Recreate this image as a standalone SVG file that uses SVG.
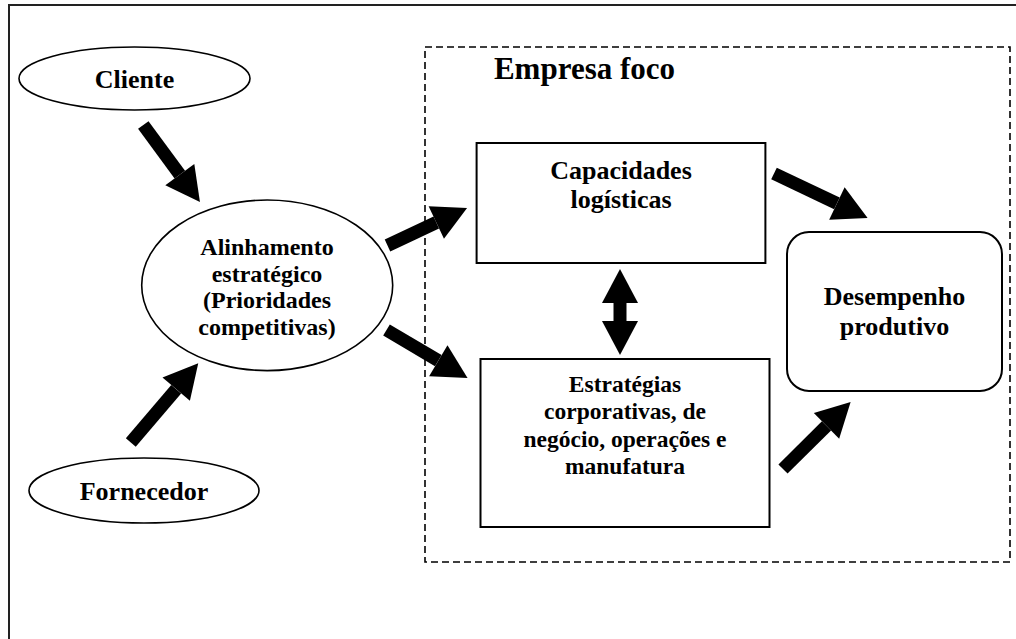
<svg xmlns="http://www.w3.org/2000/svg" width="1016" height="639" viewBox="0 0 1016 639">
<style>
text{font-family:'Liberation Serif',Tinos,'DejaVu Serif',serif;font-weight:bold;fill:#000;text-anchor:middle}
.ell{fill:#fff;stroke:#000;stroke-width:1.6}
.box{fill:#fff;stroke:#000;stroke-width:2}
.arr{stroke:#000;stroke-width:13;fill:none;marker-end:url(#head)}
</style>
<defs>
<marker id="head" markerUnits="userSpaceOnUse" markerWidth="36" markerHeight="38" refX="0" refY="18" orient="auto-start-reverse" viewBox="0 0 36 38" overflow="visible">
<path d="M0,0 L34,18 L0,36 z" fill="#000"/>
</marker>
</defs>
<rect width="1016" height="639" fill="#fff"/>
<g id="frame">
<path d="M9,639 V5 H1016" fill="none" stroke="#222" stroke-width="2"/>
</g>
<g id="empresa-foco">
<rect x="425" y="47" width="585" height="515" fill="none" stroke="#000" stroke-width="1.6" stroke-dasharray="7 4"/>
<text x="584.5" y="79" font-size="31" font-family="Liberation Serif, serif">Empresa foco</text>
</g>
<g id="cliente">
<ellipse class="ell" cx="134.5" cy="78.5" rx="115.5" ry="31.5"/>
<text x="134.5" y="88" font-size="26" font-family="Liberation Serif, serif">Cliente</text>
</g>
<g id="fornecedor">
<ellipse class="ell" cx="144" cy="490.5" rx="115" ry="32.5"/>
<text x="144" y="500" font-size="26" font-family="Liberation Serif, serif">Fornecedor</text>
</g>
<g id="alinhamento">
<ellipse class="ell" cx="267.2" cy="285.3" rx="125.5" ry="85.3"/>
<text x="267" font-size="24" font-family="Liberation Serif, serif"><tspan x="267" y="255">Alinhamento</tspan><tspan x="267" y="281.7">estratégico</tspan><tspan x="267" y="308.3">(Prioridades</tspan><tspan x="267" y="335">competitivas)</tspan></text>
</g>
<g id="capacidades">
<rect class="box" x="476.6" y="143" width="288.8" height="120"/>
<text font-size="26" font-family="Liberation Serif, serif"><tspan x="621" y="179">Capacidades</tspan><tspan x="621" y="208.3">logísticas</tspan></text>
</g>
<g id="estrategias">
<rect class="box" x="480.5" y="359" width="289" height="168"/>
<text font-size="23.5" font-family="Liberation Serif, serif"><tspan x="625" y="391.7">Estratégias</tspan><tspan x="625" y="419.3">corporativas, de</tspan><tspan x="625" y="446.7">negócio, operações e</tspan><tspan x="625" y="474">manufatura</tspan></text>
</g>
<g id="desempenho">
<rect class="box" x="787" y="232" width="215" height="159" rx="22" ry="22"/>
<text font-size="26" font-family="Liberation Serif, serif"><tspan x="894.5" y="305">Desempenho</tspan><tspan x="894.5" y="335">produtivo</tspan></text>
</g>
<g id="connectors">
<line class="arr" x1="143.3" y1="125" x2="179.8" y2="174.6"/>
<line class="arr" x1="130.8" y1="442.5" x2="176.2" y2="389.2"/>
<line class="arr" x1="387.5" y1="245.5" x2="436.3" y2="222.5"/>
<line class="arr" x1="386.5" y1="330" x2="438.3" y2="360.7"/>
<line class="arr" x1="774" y1="173.5" x2="836.9" y2="203.4"/>
<line class="arr" x1="783" y1="469" x2="826.5" y2="425.9"/>
<line class="arr" x1="620" y1="303" x2="620" y2="321" style="marker-start:url(#head)"/>
</g>
</svg>
